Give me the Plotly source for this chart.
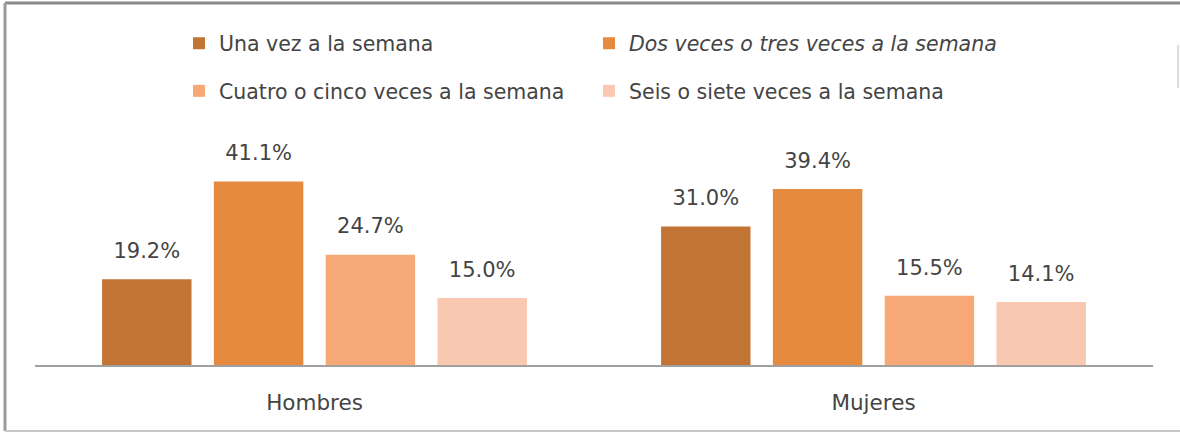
import plotly.graph_objects as go

categories = ["Hombres", "Mujeres"]
series_names = [
    "Una vez a la semana",
    "<i>Dos veces o tres veces a la semana</i>",
    "Cuatro o cinco veces a la semana",
    "Seis o siete veces a la semana",
]
una_vez = [19.2, 31.0]
dos_tres = [41.1, 39.4]
cuatro_cinco = [24.7, 15.5]
seis_siete = [15.0, 14.1]
series_values = [una_vez, dos_tres, cuatro_cinco, seis_siete]
colors = ["#C27434", "#E68A40", "#F6A877", "#F8C8B0"]
legend_ids = ["legend", "legend", "legend2", "legend2"]

W, H = 1180, 433
L, R, T, B = 35, 27, 164, 68
PW, PH = W - L - R, H - T - B
FONT = "DejaVu Sans"
TXT = "#444444"

def px_x(px):
    return (px - L) / PW

def px_y(py):
    return (H - B - py) / PH

fig = go.Figure()
for name, vals, col, lg in zip(series_names, series_values, colors, legend_ids):
    fig.add_trace(go.Bar(
        x=categories, y=vals, name=name, marker=dict(color=col, line=dict(width=0)),
        legend=lg, hoverinfo="skip",
    ))
for vals in series_values:
    fig.add_trace(go.Scatter(
        x=categories, y=vals, mode="markers+text", orientation="v",
        text=[f"{v:.1f}%" for v in vals], textposition="top center",
        textfont=dict(family=FONT, size=21, color=TXT),
        marker=dict(size=24, opacity=0), showlegend=False, hoverinfo="skip",
        cliponaxis=False,
    ))

# frame
frame = dict(type="line", xref="paper", yref="paper", layer="above")
fig.add_shape(**frame, x0=px_x(5), x1=px_x(W), y0=px_y(3), y1=px_y(3), line=dict(color="#8a8a8a", width=3))
fig.add_shape(**frame, x0=px_x(5), x1=px_x(5), y0=px_y(3), y1=px_y(431), line=dict(color="#9a9a9a", width=3))
fig.add_shape(**frame, x0=px_x(5), x1=px_x(W), y0=px_y(431), y1=px_y(431), line=dict(color="#c8c8c8", width=2))
fig.add_shape(**frame, x0=px_x(1178), x1=px_x(1178), y0=px_y(45), y1=px_y(88), line=dict(color="#dddddd", width=2))

legend_common = dict(
    orientation="h", xref="container", yref="container", xanchor="left", yanchor="middle",
    font=dict(family=FONT, size=20.5, color=TXT), entrywidth=365, bgcolor="rgba(0,0,0,0)",
    itemclick=False, itemdoubleclick=False,
)
fig.update_layout(
    width=W, height=H,
    margin=dict(l=L, r=R, t=T, b=B),
    paper_bgcolor="white", plot_bgcolor="white",
    barmode="group", bargap=0.2, bargroupgap=0.2,
    scattermode="group", scattergap=0.2,
    showlegend=True,
    legend=dict(**legend_common, x=179 / W, y=1 - 43.5 / H),
    legend2=dict(**legend_common, x=179 / W, y=1 - 91 / H),
    xaxis=dict(showline=True, linecolor="#a0a0a0", linewidth=2, showgrid=False, zeroline=False,
               ticks="", ticklabelstandoff=17,
               tickfont=dict(family=FONT, size=21.5, color=TXT), fixedrange=True),
    yaxis=dict(range=[0, 45], visible=False, showgrid=False, zeroline=False, fixedrange=True),
)
fig.write_html("out.html", config={"displayModeBar": False},
               post_script="document.body.style.margin='0';")
